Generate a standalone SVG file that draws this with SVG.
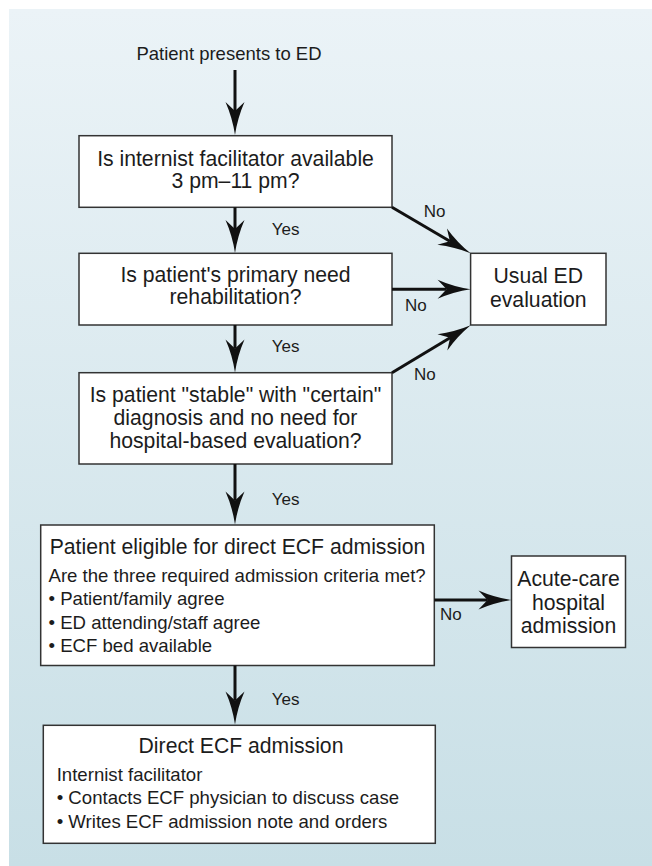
<svg xmlns="http://www.w3.org/2000/svg" width="652" height="866" viewBox="0 0 652 866">
  <defs>
    <linearGradient id="bg" x1="0" y1="0" x2="0" y2="1">
      <stop offset="0" stop-color="#ebf3f7"/>
      <stop offset="1" stop-color="#c8dfe6"/>
    </linearGradient>
    <marker id="ah" markerUnits="userSpaceOnUse" viewBox="-34 -10 36 20" markerWidth="36" markerHeight="20" refX="-24" refY="0" orient="auto">
      <path d="M0,0 Q-17,-2.5 -33,-9.5 L-24,0 L-33,9.5 Q-17,2.5 0,0 Z" fill="#111"/>
    </marker>
    <style>
      text { font-family: "Liberation Sans", Arial, Helvetica, sans-serif; fill: #1c1c1c; }
      .box { fill: #ffffff; stroke: #333333; stroke-width: 1.5; }
      .t { font-size: 21.2px; text-anchor: middle; }
      .b { font-size: 18.6px; }
      .lbl { font-size: 17px; }
      .top { font-size: 18.5px; text-anchor: middle; }
      .conn line { stroke: #111; stroke-width: 3; marker-end: url(#ah); }
    </style>
  </defs>

  <rect x="9" y="9" width="643" height="857" fill="url(#bg)"/>

  <g id="start">
    <text class="top" x="229" y="60">Patient presents to ED</text>
  </g>

  <g id="q1">
    <rect class="box" x="79" y="135.7" width="313" height="71.6"/>
    <text class="t" x="235.5" y="165.7">Is internist facilitator available</text>
    <text class="t" x="235.5" y="188.3">3 pm–11 pm?</text>
  </g>

  <g id="q2">
    <rect class="box" x="79" y="253.3" width="313" height="71.7"/>
    <text class="t" x="235.5" y="281.7">Is patient's primary need</text>
    <text class="t" x="235.5" y="304">rehabilitation?</text>
  </g>

  <g id="q3">
    <rect class="box" x="79" y="372.7" width="313" height="91.3"/>
    <text class="t" x="235.5" y="401.7">Is patient "stable" with "certain"</text>
    <text class="t" x="235.5" y="425">diagnosis and no need for</text>
    <text class="t" x="235.5" y="448.3">hospital-based evaluation?</text>
  </g>

  <g id="usual">
    <rect class="box" x="470.6" y="253.3" width="135.4" height="71.7"/>
    <text class="t" x="538.3" y="283.3">Usual ED</text>
    <text class="t" x="538.3" y="306.7">evaluation</text>
  </g>

  <g id="eligible">
    <rect class="box" x="40.7" y="525" width="393.6" height="140.5"/>
    <text class="t" x="237.5" y="554">Patient eligible for direct ECF admission</text>
    <text class="b" x="48.5" y="582">Are the three required admission criteria met?</text>
    <text class="b" x="48.5" y="605.3">• Patient/family agree</text>
    <text class="b" x="48.5" y="628.6">• ED attending/staff agree</text>
    <text class="b" x="48.5" y="651.9">• ECF bed available</text>
  </g>

  <g id="acute">
    <rect class="box" x="511.5" y="556" width="114" height="91.5"/>
    <text class="t" x="568.5" y="586">Acute-care</text>
    <text class="t" x="568.5" y="610">hospital</text>
    <text class="t" x="568.5" y="633.3">admission</text>
  </g>

  <g id="direct">
    <rect class="box" x="43.3" y="725.3" width="392" height="118"/>
    <text class="t" x="241" y="753.3">Direct ECF admission</text>
    <text class="b" x="56.7" y="781">Internist facilitator</text>
    <text class="b" x="56.7" y="804.3">• Contacts ECF physician to discuss case</text>
    <text class="b" x="56.7" y="827.7">• Writes ECF admission note and orders</text>
  </g>

  <g id="connectors" class="conn">
    <line x1="235" y1="70" x2="235" y2="111"/>
    <line x1="235" y1="207.3" x2="235" y2="229"/>
    <line x1="235" y1="325" x2="235" y2="348.5"/>
    <line x1="235" y1="464" x2="235" y2="500.5"/>
    <line x1="235" y1="665.5" x2="235" y2="700.5"/>
    <line x1="392" y1="207.3" x2="449.9" y2="241.2"/>
    <line x1="392" y1="289.3" x2="446.6" y2="289.3"/>
    <line x1="392" y1="372.7" x2="450.1" y2="337.7"/>
    <line x1="434.3" y1="600" x2="487.5" y2="600"/>
  </g>

  <g id="labels">
    <text class="lbl" x="271.7" y="235">Yes</text>
    <text class="lbl" x="271.7" y="351.7">Yes</text>
    <text class="lbl" x="271.7" y="505">Yes</text>
    <text class="lbl" x="271.7" y="705.3">Yes</text>
    <text class="lbl" x="423.7" y="216.7">No</text>
    <text class="lbl" x="405" y="311">No</text>
    <text class="lbl" x="414" y="380">No</text>
    <text class="lbl" x="440" y="620">No</text>
  </g>
</svg>
